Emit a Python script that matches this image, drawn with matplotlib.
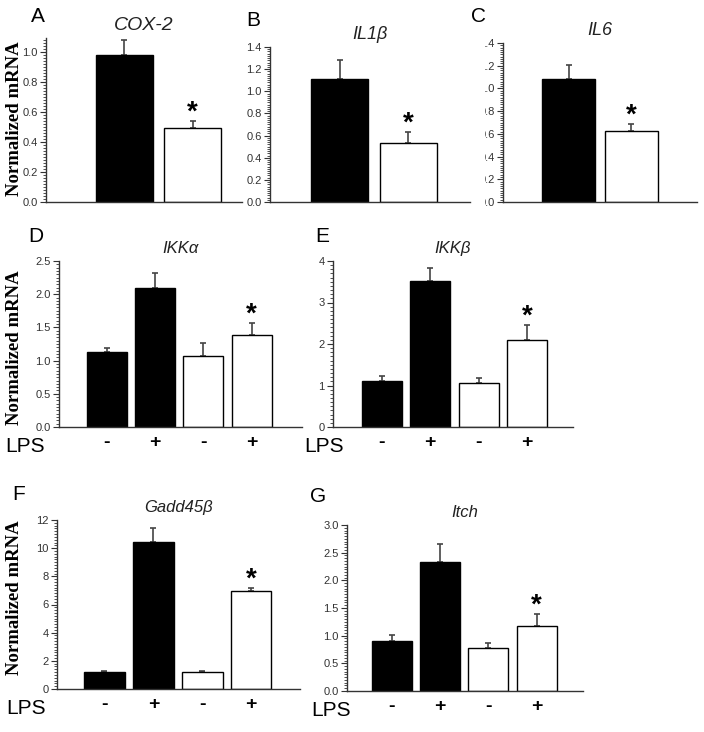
import matplotlib
matplotlib.use("Agg")
import matplotlib.pyplot as plt
from matplotlib.ticker import AutoMinorLocator
from matplotlib.transforms import Bbox, TransformedBbox

# ---- data ----
top_fill = ['black', 'white']
lps_fill = ['black', 'black', 'white', 'white']
lps_signs = ['-', '+', '-', '+']

cox2 = [0.98, 0.49]
cox2_err = [0.10, 0.05]
il1b = [1.11, 0.53]
il1b_err = [0.17, 0.10]
il6 = [1.08, 0.625]
il6_err = [0.13, 0.065]

ikka = [1.13, 2.10, 1.07, 1.39]
ikka_err = [0.06, 0.22, 0.20, 0.18]
ikkb = [1.10, 3.52, 1.05, 2.10]
ikkb_err = [0.12, 0.31, 0.14, 0.36]
gadd45b = [1.20, 10.44, 1.20, 6.96]
gadd45b_err = [0.08, 0.96, 0.08, 0.18]
itch = [0.90, 2.33, 0.77, 1.18]
itch_err = [0.11, 0.33, 0.10, 0.21]

W, H = 704, 732
fig = plt.figure(figsize=(W / 100, H / 100), dpi=100)
plt.rcParams['font.family'] = ['Liberation Sans', 'DejaVu Sans']

GREY = '#333333'


def add_panel(x0, x1, ytop, ybot):
    return fig.add_axes([x0 / W, 1 - ybot / H, (x1 - x0) / W, (ybot - ytop) / H])


def bar_panel(ax, vals, errs, fills, xlim, ylim, yticks, ticklabels, title, star_idx, tsize=12):
    x = list(range(len(vals)))
    ax.bar(x, vals, width=0.83, color=fills, edgecolor='black', linewidth=1.0, zorder=2)
    ax.errorbar(x, vals, yerr=[[0] * len(errs), errs], fmt='none', ecolor='#444444',
                elinewidth=1.2, capsize=2.5, capthick=1.2, zorder=1)
    ax.annotate('*', (star_idx, vals[star_idx] + errs[star_idx]), xytext=(0, 1),
                textcoords='offset points', ha='center', va='baseline',
                fontsize=20, fontweight='bold')
    ax.set_xlim(*xlim)
    ax.set_ylim(*ylim)
    ax.set_yticks(yticks)
    ax.set_yticklabels(ticklabels)
    ax.yaxis.set_minor_locator(AutoMinorLocator(10))
    ax.tick_params(axis='y', which='major', length=4, width=0.8, color=GREY,
                   labelsize=8, labelcolor=GREY, pad=2)
    ax.tick_params(axis='y', which='minor', length=2, width=0.6, color=GREY)
    ax.tick_params(axis='x', length=0)
    for s in ('top', 'right'):
        ax.spines[s].set_visible(False)
    for s in ('left', 'bottom'):
        ax.spines[s].set_color(GREY)
        ax.spines[s].set_linewidth(1.0)
    ax.set_title(title, fontstyle='italic', fontsize=tsize, color='#222222', pad=6)
    ax.set_facecolor('none')


def lps_row(ax, lps_x):
    ax.set_xticks(range(4))
    ax.set_xticklabels(lps_signs, fontsize=14, fontweight='bold')
    ax.tick_params(axis='x', length=0, pad=5)
    ax.text(lps_x, -0.115, 'LPS', transform=ax.transAxes, fontsize=15,
            ha='left', va='center')


def fmt(ticks, nd=1):
    return [f'{t:.{nd}f}' for t in ticks]


# ---- top row ----
yt = [0.0, 0.2, 0.4, 0.6, 0.8, 1.0]
axA = add_panel(46, 242, 38, 202)
bar_panel(axA, cox2, cox2_err, top_fill, (-1.14, 1.72), (0, 1.09), yt, fmt(yt), 'COX-2', 1, 14)
axA.set_xticks([])

yt = [0.0, 0.2, 0.4, 0.6, 0.8, 1.0, 1.2, 1.4]
axB = add_panel(270, 470, 47, 202)
bar_panel(axB, il1b, il1b_err, top_fill, (-1.02, 1.90), (0, 1.4), yt, fmt(yt), 'IL1β', 1, 13)
axB.set_xticks([])

axC = add_panel(503, 697, 43, 202)
bar_panel(axC, il6, il6_err, top_fill, (-1.04, 2.04), (0, 1.4), yt, fmt(yt), 'IL6', 1, 13)
axC.set_xticks([])
# the left part of panel C's tick labels is cropped in the original figure
clip = TransformedBbox(Bbox([[485 / W, 0], [1, 1]]), fig.transFigure)
for lab in axC.get_yticklabels():
    lab.set_clip_box(clip)
    lab.set_clip_on(True)

# ---- middle row ----
yt = [0.0, 0.5, 1.0, 1.5, 2.0, 2.5]
axD = add_panel(59, 302, 261, 427)
bar_panel(axD, ikka, ikka_err, lps_fill, (-0.99, 4.04), (0, 2.5), yt, fmt(yt), 'IKKα', 3)
lps_row(axD, -0.22)

yt = [0, 1, 2, 3, 4]
axE = add_panel(333, 573, 261, 427)
bar_panel(axE, ikkb, ikkb_err, lps_fill, (-1.01, 3.95), (0, 4), yt, fmt(yt, 0), 'IKKβ', 3)
lps_row(axE, -0.12)

# ---- bottom row ----
yt = [0, 2, 4, 6, 8, 10, 12]
axF = add_panel(57, 300, 520, 689)
bar_panel(axF, gadd45b, gadd45b_err, lps_fill, (-0.97, 4.0), (0, 12), yt, fmt(yt, 0), 'Gadd45β', 3)
lps_row(axF, -0.21)

yt = [0.0, 0.5, 1.0, 1.5, 2.0, 2.5, 3.0]
axG = add_panel(347, 583, 525, 691)
bar_panel(axG, itch, itch_err, lps_fill, (-0.93, 3.96), (0, 3), yt, fmt(yt), 'Itch', 3)
lps_row(axG, -0.15)

# ---- panel letters and y labels ----
letters = ['A', 'B', 'C', 'D', 'E', 'F', 'G']
letter_pos = [(38, 17), (253, 20), (479, 16), (36, 236), (322, 236), (19, 495), (318, 496)]
for lt, (px, py) in zip(letters, letter_pos):
    fig.text(px / W, 1 - py / H, lt, fontsize=15, ha='center', va='center')

for py in (119, 348, 598):
    fig.text(15 / W, 1 - py / H, 'Normalized mRNA', rotation=90, ha='center', va='center',
             fontsize=13.5, fontweight='bold', family=['Liberation Serif', 'DejaVu Serif'])

fig.savefig('out.png', dpi=100)
